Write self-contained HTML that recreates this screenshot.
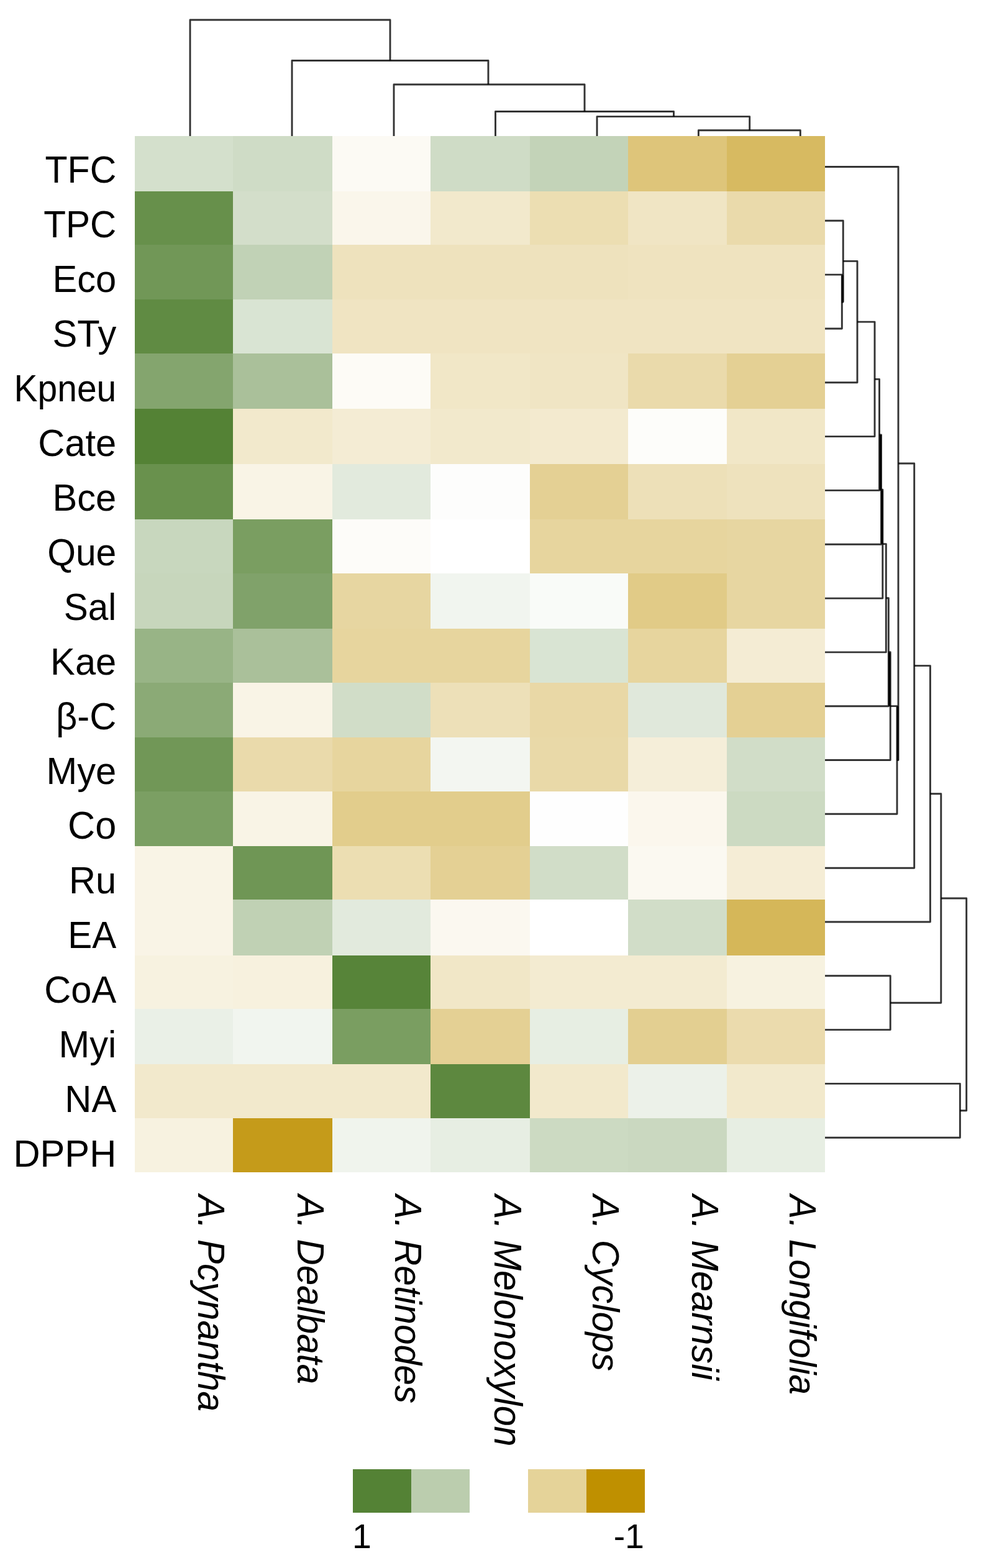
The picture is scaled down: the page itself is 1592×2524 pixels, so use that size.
<!DOCTYPE html>
<html lang="en"><head><meta charset="utf-8"><title>Heatmap</title>
<style>
html,body{margin:0;padding:0;background:#fff;}
body{width:1592px;height:2524px;overflow:hidden;position:relative;font-family:"Liberation Sans",sans-serif;}
#fig{position:absolute;left:0;top:0;width:1592px;height:2524px;}
.c{position:absolute;}
svg{position:absolute;left:0;top:0;}
text{font-family:"Liberation Sans",sans-serif;fill:#000;}
.rl{font-size:62px;text-anchor:end;}
.cl{font-size:62px;font-style:italic;}
.lg{font-size:55.5px;}
</style></head><body><div id="fig">
<div class="c" style="left:217px;top:219px;width:158.5px;height:89.5px;background:#d4e0cc"></div>
<div class="c" style="left:375px;top:219px;width:160.5px;height:89.5px;background:#cfdcc6"></div>
<div class="c" style="left:535px;top:219px;width:158.5px;height:89.5px;background:#fcfaf4"></div>
<div class="c" style="left:693px;top:219px;width:160.5px;height:89.5px;background:#cfdcc6"></div>
<div class="c" style="left:853px;top:219px;width:158px;height:89.5px;background:#c3d3b8"></div>
<div class="c" style="left:1010.5px;top:219px;width:160px;height:89.5px;background:#dec57a"></div>
<div class="c" style="left:1170px;top:219px;width:158px;height:89.5px;background:#d7ba61"></div>
<div class="c" style="left:217px;top:308px;width:158.5px;height:86.5px;background:#67904b"></div>
<div class="c" style="left:375px;top:308px;width:160.5px;height:86.5px;background:#d3deca"></div>
<div class="c" style="left:535px;top:308px;width:158.5px;height:86.5px;background:#faf6eb"></div>
<div class="c" style="left:693px;top:308px;width:160.5px;height:86.5px;background:#f2e9cc"></div>
<div class="c" style="left:853px;top:308px;width:158px;height:86.5px;background:#ecdeb2"></div>
<div class="c" style="left:1010.5px;top:308px;width:160px;height:86.5px;background:#f0e5c4"></div>
<div class="c" style="left:1170px;top:308px;width:158px;height:86.5px;background:#eadaab"></div>
<div class="c" style="left:217px;top:394px;width:158.5px;height:88.5px;background:#719757"></div>
<div class="c" style="left:375px;top:394px;width:160.5px;height:88.5px;background:#c1d2b6"></div>
<div class="c" style="left:535px;top:394px;width:158.5px;height:88.5px;background:#eee2bd"></div>
<div class="c" style="left:693px;top:394px;width:160.5px;height:88.5px;background:#eee2bd"></div>
<div class="c" style="left:853px;top:394px;width:158px;height:88.5px;background:#eee2bd"></div>
<div class="c" style="left:1010.5px;top:394px;width:160px;height:88.5px;background:#efe3bf"></div>
<div class="c" style="left:1170px;top:394px;width:158px;height:88.5px;background:#efe3bf"></div>
<div class="c" style="left:217px;top:482px;width:158.5px;height:87.5px;background:#608b43"></div>
<div class="c" style="left:375px;top:482px;width:160.5px;height:87.5px;background:#d9e4d3"></div>
<div class="c" style="left:535px;top:482px;width:158.5px;height:87.5px;background:#f0e4c2"></div>
<div class="c" style="left:693px;top:482px;width:160.5px;height:87.5px;background:#f0e4c2"></div>
<div class="c" style="left:853px;top:482px;width:158px;height:87.5px;background:#f0e4c2"></div>
<div class="c" style="left:1010.5px;top:482px;width:160px;height:87.5px;background:#f0e4c2"></div>
<div class="c" style="left:1170px;top:482px;width:158px;height:87.5px;background:#f0e4c2"></div>
<div class="c" style="left:217px;top:569px;width:158.5px;height:89.5px;background:#84a56e"></div>
<div class="c" style="left:375px;top:569px;width:160.5px;height:89.5px;background:#aac09a"></div>
<div class="c" style="left:535px;top:569px;width:158.5px;height:89.5px;background:#fdfbf6"></div>
<div class="c" style="left:693px;top:569px;width:160.5px;height:89.5px;background:#f1e7c7"></div>
<div class="c" style="left:853px;top:569px;width:158px;height:89.5px;background:#f0e5c4"></div>
<div class="c" style="left:1010.5px;top:569px;width:160px;height:89.5px;background:#eadaab"></div>
<div class="c" style="left:1170px;top:569px;width:158px;height:89.5px;background:#e4d094"></div>
<div class="c" style="left:217px;top:658px;width:158.5px;height:89.5px;background:#548235"></div>
<div class="c" style="left:375px;top:658px;width:160.5px;height:89.5px;background:#f2e9cc"></div>
<div class="c" style="left:535px;top:658px;width:158.5px;height:89.5px;background:#f4ecd4"></div>
<div class="c" style="left:693px;top:658px;width:160.5px;height:89.5px;background:#f2e9cc"></div>
<div class="c" style="left:853px;top:658px;width:158px;height:89.5px;background:#f3eacf"></div>
<div class="c" style="left:1010.5px;top:658px;width:160px;height:89.5px;background:#fdfdfa"></div>
<div class="c" style="left:1170px;top:658px;width:158px;height:89.5px;background:#f1e7c7"></div>
<div class="c" style="left:217px;top:747px;width:158.5px;height:89.5px;background:#69914d"></div>
<div class="c" style="left:375px;top:747px;width:160.5px;height:89.5px;background:#f9f4e6"></div>
<div class="c" style="left:535px;top:747px;width:158.5px;height:89.5px;background:#e2eadd"></div>
<div class="c" style="left:693px;top:747px;width:160.5px;height:89.5px;background:#fdfdfc"></div>
<div class="c" style="left:853px;top:747px;width:158px;height:89.5px;background:#e4d094"></div>
<div class="c" style="left:1010.5px;top:747px;width:160px;height:89.5px;background:#ede0b8"></div>
<div class="c" style="left:1170px;top:747px;width:158px;height:89.5px;background:#eee2bd"></div>
<div class="c" style="left:217px;top:836px;width:158.5px;height:87.5px;background:#c8d7be"></div>
<div class="c" style="left:375px;top:836px;width:160.5px;height:87.5px;background:#7a9e61"></div>
<div class="c" style="left:535px;top:836px;width:158.5px;height:87.5px;background:#fdfcf9"></div>
<div class="c" style="left:693px;top:836px;width:160.5px;height:87.5px;background:#ffffff"></div>
<div class="c" style="left:853px;top:836px;width:158px;height:87.5px;background:#e7d59e"></div>
<div class="c" style="left:1010.5px;top:836px;width:160px;height:87.5px;background:#e7d59e"></div>
<div class="c" style="left:1170px;top:836px;width:158px;height:87.5px;background:#e7d6a1"></div>
<div class="c" style="left:217px;top:923px;width:158.5px;height:89.5px;background:#c7d6bc"></div>
<div class="c" style="left:375px;top:923px;width:160.5px;height:89.5px;background:#80a26a"></div>
<div class="c" style="left:535px;top:923px;width:158.5px;height:89.5px;background:#e7d6a1"></div>
<div class="c" style="left:693px;top:923px;width:160.5px;height:89.5px;background:#f1f5ef"></div>
<div class="c" style="left:853px;top:923px;width:158px;height:89.5px;background:#f9fbf8"></div>
<div class="c" style="left:1010.5px;top:923px;width:160px;height:89.5px;background:#e1cb87"></div>
<div class="c" style="left:1170px;top:923px;width:158px;height:89.5px;background:#e7d6a1"></div>
<div class="c" style="left:217px;top:1012px;width:158.5px;height:87.5px;background:#98b486"></div>
<div class="c" style="left:375px;top:1012px;width:160.5px;height:87.5px;background:#aac09a"></div>
<div class="c" style="left:535px;top:1012px;width:158.5px;height:87.5px;background:#e7d59e"></div>
<div class="c" style="left:693px;top:1012px;width:160.5px;height:87.5px;background:#e7d59e"></div>
<div class="c" style="left:853px;top:1012px;width:158px;height:87.5px;background:#d9e4d3"></div>
<div class="c" style="left:1010.5px;top:1012px;width:160px;height:87.5px;background:#e7d59e"></div>
<div class="c" style="left:1170px;top:1012px;width:158px;height:87.5px;background:#f4ecd4"></div>
<div class="c" style="left:217px;top:1099px;width:158.5px;height:88.5px;background:#8baa76"></div>
<div class="c" style="left:375px;top:1099px;width:160.5px;height:88.5px;background:#f9f4e6"></div>
<div class="c" style="left:535px;top:1099px;width:158.5px;height:88.5px;background:#d1ddc8"></div>
<div class="c" style="left:693px;top:1099px;width:160.5px;height:88.5px;background:#ede0b8"></div>
<div class="c" style="left:853px;top:1099px;width:158px;height:88.5px;background:#e9d8a6"></div>
<div class="c" style="left:1010.5px;top:1099px;width:160px;height:88.5px;background:#e0e8db"></div>
<div class="c" style="left:1170px;top:1099px;width:158px;height:88.5px;background:#e4d094"></div>
<div class="c" style="left:217px;top:1187px;width:158.5px;height:87.5px;background:#719757"></div>
<div class="c" style="left:375px;top:1187px;width:160.5px;height:87.5px;background:#eadaab"></div>
<div class="c" style="left:535px;top:1187px;width:158.5px;height:87.5px;background:#e7d59e"></div>
<div class="c" style="left:693px;top:1187px;width:160.5px;height:87.5px;background:#f3f6f1"></div>
<div class="c" style="left:853px;top:1187px;width:158px;height:87.5px;background:#e9d9a8"></div>
<div class="c" style="left:1010.5px;top:1187px;width:160px;height:87.5px;background:#f5eed9"></div>
<div class="c" style="left:1170px;top:1187px;width:158px;height:87.5px;background:#d1ddc8"></div>
<div class="c" style="left:217px;top:1274px;width:158.5px;height:88.5px;background:#7b9f63"></div>
<div class="c" style="left:375px;top:1274px;width:160.5px;height:88.5px;background:#f9f4e6"></div>
<div class="c" style="left:535px;top:1274px;width:158.5px;height:88.5px;background:#e2cd8c"></div>
<div class="c" style="left:693px;top:1274px;width:160.5px;height:88.5px;background:#e2cd8c"></div>
<div class="c" style="left:853px;top:1274px;width:158px;height:88.5px;background:#fefefe"></div>
<div class="c" style="left:1010.5px;top:1274px;width:160px;height:88.5px;background:#fbf7ed"></div>
<div class="c" style="left:1170px;top:1274px;width:158px;height:88.5px;background:#ccdac2"></div>
<div class="c" style="left:217px;top:1362px;width:158.5px;height:86.5px;background:#f9f4e6"></div>
<div class="c" style="left:375px;top:1362px;width:160.5px;height:86.5px;background:#6f9655"></div>
<div class="c" style="left:535px;top:1362px;width:158.5px;height:86.5px;background:#ecdeb2"></div>
<div class="c" style="left:693px;top:1362px;width:160.5px;height:86.5px;background:#e4d094"></div>
<div class="c" style="left:853px;top:1362px;width:158px;height:86.5px;background:#d1ddc8"></div>
<div class="c" style="left:1010.5px;top:1362px;width:160px;height:86.5px;background:#fbf9f1"></div>
<div class="c" style="left:1170px;top:1362px;width:158px;height:86.5px;background:#f5edd6"></div>
<div class="c" style="left:217px;top:1448px;width:158.5px;height:90.5px;background:#f9f4e6"></div>
<div class="c" style="left:375px;top:1448px;width:160.5px;height:90.5px;background:#c0d1b4"></div>
<div class="c" style="left:535px;top:1448px;width:158.5px;height:90.5px;background:#e2eadd"></div>
<div class="c" style="left:693px;top:1448px;width:160.5px;height:90.5px;background:#fbf8f0"></div>
<div class="c" style="left:853px;top:1448px;width:158px;height:90.5px;background:#ffffff"></div>
<div class="c" style="left:1010.5px;top:1448px;width:160px;height:90.5px;background:#d1ddc8"></div>
<div class="c" style="left:1170px;top:1448px;width:158px;height:90.5px;background:#d5b759"></div>
<div class="c" style="left:217px;top:1538px;width:158.5px;height:86.5px;background:#f7f2e0"></div>
<div class="c" style="left:375px;top:1538px;width:160.5px;height:86.5px;background:#f7f1de"></div>
<div class="c" style="left:535px;top:1538px;width:158.5px;height:86.5px;background:#578439"></div>
<div class="c" style="left:693px;top:1538px;width:160.5px;height:86.5px;background:#f1e7c7"></div>
<div class="c" style="left:853px;top:1538px;width:158px;height:86.5px;background:#f3ebd1"></div>
<div class="c" style="left:1010.5px;top:1538px;width:160px;height:86.5px;background:#f3ebd1"></div>
<div class="c" style="left:1170px;top:1538px;width:158px;height:86.5px;background:#f7f2e0"></div>
<div class="c" style="left:217px;top:1624px;width:158.5px;height:89.5px;background:#eaf0e7"></div>
<div class="c" style="left:375px;top:1624px;width:160.5px;height:89.5px;background:#f1f5ef"></div>
<div class="c" style="left:535px;top:1624px;width:158.5px;height:89.5px;background:#7a9e61"></div>
<div class="c" style="left:693px;top:1624px;width:160.5px;height:89.5px;background:#e4d094"></div>
<div class="c" style="left:853px;top:1624px;width:158px;height:89.5px;background:#e7eee3"></div>
<div class="c" style="left:1010.5px;top:1624px;width:160px;height:89.5px;background:#e3cf91"></div>
<div class="c" style="left:1170px;top:1624px;width:158px;height:89.5px;background:#ebdbad"></div>
<div class="c" style="left:217px;top:1713px;width:158.5px;height:87.5px;background:#f2e9cc"></div>
<div class="c" style="left:375px;top:1713px;width:160.5px;height:87.5px;background:#f2e9cc"></div>
<div class="c" style="left:535px;top:1713px;width:158.5px;height:87.5px;background:#f2e9cc"></div>
<div class="c" style="left:693px;top:1713px;width:160.5px;height:87.5px;background:#5d883f"></div>
<div class="c" style="left:853px;top:1713px;width:158px;height:87.5px;background:#f2e9cc"></div>
<div class="c" style="left:1010.5px;top:1713px;width:160px;height:87.5px;background:#ecf1e9"></div>
<div class="c" style="left:1170px;top:1713px;width:158px;height:87.5px;background:#f2e9cc"></div>
<div class="c" style="left:217px;top:1800px;width:158.5px;height:87px;background:#f7f2e0"></div>
<div class="c" style="left:375px;top:1800px;width:160.5px;height:87px;background:#c59b1a"></div>
<div class="c" style="left:535px;top:1800px;width:158.5px;height:87px;background:#f0f4ed"></div>
<div class="c" style="left:693px;top:1800px;width:160.5px;height:87px;background:#e7eee3"></div>
<div class="c" style="left:853px;top:1800px;width:158px;height:87px;background:#ccdac2"></div>
<div class="c" style="left:1010.5px;top:1800px;width:160px;height:87px;background:#cad8c0"></div>
<div class="c" style="left:1170px;top:1800px;width:158px;height:87px;background:#e7eee3"></div>
<div class="c" style="left:568px;top:2364.5px;width:94px;height:70.5px;background:#548235"></div>
<div class="c" style="left:662px;top:2364.5px;width:94px;height:70.5px;background:#bbcdae"></div>
<div class="c" style="left:850px;top:2364.5px;width:94px;height:70.5px;background:#e5d399"></div>
<div class="c" style="left:944px;top:2364.5px;width:94px;height:70.5px;background:#bf9000"></div>
<svg width="1592" height="2524" viewBox="0 0 1592 2524">
<g fill="none" stroke="#000" stroke-opacity="0.8" stroke-width="2.9" stroke-linejoin="round">
<path d="M1124.4 219 V209.7 H1288.3 V219"/>
<path d="M961 219 V187.6 H1206.7 V209.7"/>
<path d="M797.5 219 V179.5 H1084.5 V187.6"/>
<path d="M634 219 V136 H941 V179.5"/>
<path d="M470 219 V97.5 H786 V136"/>
<path d="M306 219 V32 H628 V97.5"/>
<path d="M1328 442.1 H1355.3 V529.0 H1328"/>
<path d="M1328 355.3 H1357.2 V485.6 H1355.3"/>
<path d="M1357.2 420.4 H1380 V615.8 H1328"/>
<path d="M1380 518.1 H1408 V702.6 H1328"/>
<path d="M1408 610.4 H1415.5 V789.4 H1328"/>
<path d="M1415.5 699.9 H1418.5 V876.2 H1328"/>
<path d="M1418.5 788.1 H1420.8 V963.1 H1328"/>
<path d="M1420.8 875.6 H1426.3 V1049.9 H1328"/>
<path d="M1426.3 962.7 H1430.3 V1136.7 H1328"/>
<path d="M1430.3 1049.7 H1433.2 V1223.5 H1328"/>
<path d="M1433.2 1136.6 H1444 V1310.3 H1328"/>
<path d="M1328 268.5 H1446 V1223.5 H1444"/>
<path d="M1446 746.0 H1471.7 V1397.2 H1328"/>
<path d="M1471.7 1071.6 H1497.4 V1484.0 H1328"/>
<path d="M1328 1570.8 H1433.2 V1657.6 H1328"/>
<path d="M1497.4 1277.8 H1514.8 V1614.2 H1433.2"/>
<path d="M1328 1744.4 H1545.4 V1831.3 H1328"/>
<path d="M1514.8 1446.0 H1555.7 V1787.8 H1545.4"/>
</g>
<g fill="none" stroke="#000" stroke-width="3">
<path d="M1356.2 443 V487.5"/>
<path d="M1417.3 700 V789.5"/>
<path d="M1419.8 789.5 V875.5"/>
<path d="M1431.8 1050.5 V1137"/>
<path d="M1445 1137 V1224"/>
</g>
<text class="rl" transform="translate(187.3 294.3) scale(0.9532 1)">TFC</text>
<text class="rl" transform="translate(187.3 382.3) scale(0.9435 1)">TPC</text>
<text class="rl" transform="translate(187.3 470.3) scale(0.9629 1)">Eco</text>
<text class="rl" transform="translate(187.3 558.3) scale(0.9629 1)">STy</text>
<text class="rl" transform="translate(187.3 646.3) scale(0.9194 1)">Kpneu</text>
<text class="rl" transform="translate(187.3 734.3) scale(0.9629 1)">Cate</text>
<text class="rl" transform="translate(187.3 822.3) scale(0.9629 1)">Bce</text>
<text class="rl" transform="translate(187.3 910.3) scale(0.9484 1)">Que</text>
<text class="rl" transform="translate(187.3 998.3) scale(0.9435 1)">Sal</text>
<text class="rl" transform="translate(187.3 1086.3) scale(0.9629 1)">Kae</text>
<text class="rl" transform="translate(187.3 1174.3) scale(0.9629 1)">β-C</text>
<text class="rl" transform="translate(187.3 1262.3) scale(0.9629 1)">Mye</text>
<text class="rl" transform="translate(187.3 1350.3) scale(0.9871 1)">Co</text>
<text class="rl" transform="translate(187.3 1438.3) scale(0.9629 1)">Ru</text>
<text class="rl" transform="translate(187.3 1526.3) scale(0.9435 1)">EA</text>
<text class="rl" transform="translate(187.3 1614.3) scale(0.9629 1)">CoA</text>
<text class="rl" transform="translate(187.3 1702.3) scale(0.9629 1)">Myi</text>
<text class="rl" transform="translate(187.3 1790.3) scale(0.9629 1)">NA</text>
<text class="rl" transform="translate(187.3 1878.3) scale(0.9629 1)">DPPH</text>
<text class="cl" transform="translate(319.0 1923.2) rotate(90) scale(0.9466 1)">A. Pcynantha</text>
<text class="cl" transform="translate(478.5 1923.2) rotate(90) scale(0.9418 1)">A. Dealbata</text>
<text class="cl" transform="translate(636.0 1923.2) rotate(90) scale(0.9466 1)">A. Retinodes</text>
<text class="cl" transform="translate(796.0 1923.2) rotate(90) scale(0.9565 1)">A. Melonoxylon</text>
<text class="cl" transform="translate(954.0 1923.2) rotate(90) scale(0.9589 1)">A. Cyclops</text>
<text class="cl" transform="translate(1113.6 1923.2) rotate(90) scale(0.9627 1)">A. Mearnsii</text>
<text class="cl" transform="translate(1271.3 1923.2) rotate(90) scale(0.9437 1)">A. Longifolia</text>
<text class="lg" x="567" y="2491.5">1</text>
<text class="lg" x="1037" y="2491.5" text-anchor="end">-1</text>
</svg>
</div></body></html>
